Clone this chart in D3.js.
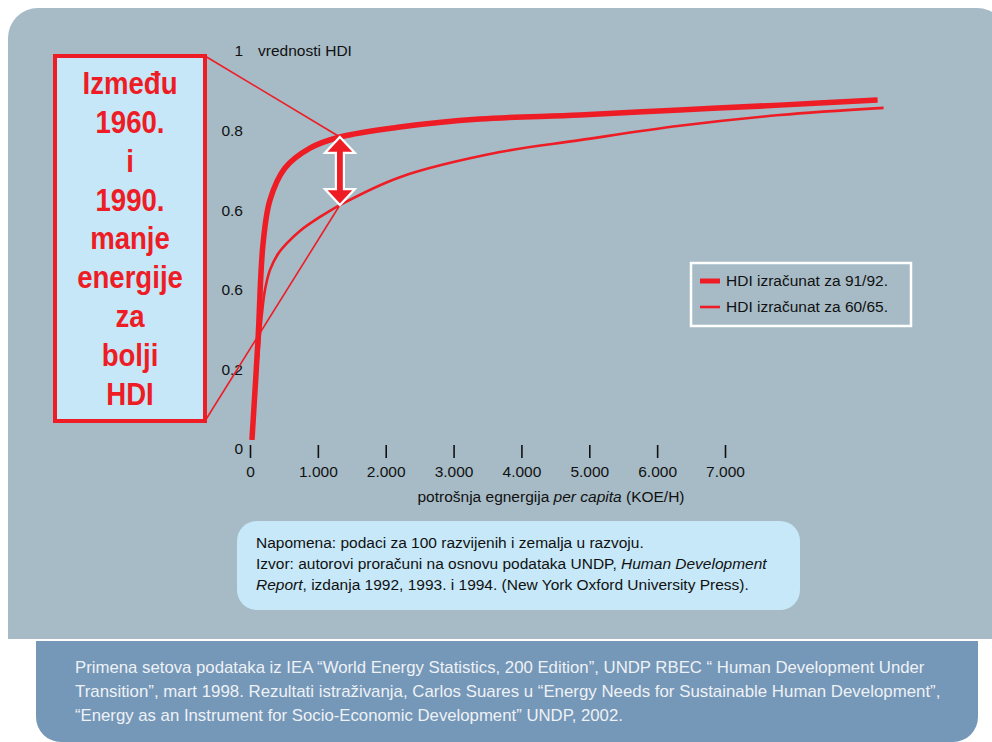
<!DOCTYPE html>
<html><head><meta charset="utf-8">
<script src="https://cdn.jsdelivr.net/npm/d3@7"></script>
<style>
body{margin:0;background:#fff}
svg{display:block;font-family:"Liberation Sans",Arial,sans-serif}
</style>
</head><body>
<svg id="c" width="992" height="742"></svg>
<script>
// ---------- data ----------
const energy9192 = [29, 118, 191, 295, 516, 884, 1325, 2209, 3387, 4860, 6333, 7806, 9249];
const hdi9192    = [0.023, 0.274, 0.513, 0.626, 0.706, 0.756, 0.784, 0.809, 0.829, 0.839, 0.852, 0.864, 0.877];
const energy6065 = [29, 103, 177, 221, 295, 412, 560, 736, 1031, 1325, 2209, 3682, 4860, 6333, 7806, 9337];
const hdi6065    = [0.023, 0.198, 0.342, 0.400, 0.450, 0.490, 0.520, 0.548, 0.583, 0.613, 0.683, 0.746, 0.776, 0.812, 0.839, 0.857];
const xTicks = [0, 1000, 2000, 3000, 4000, 5000, 6000, 7000];
const xTickLabels = ["0", "1.000", "2.000", "3.000", "4.000", "5.000", "6.000", "7.000"];
const yTicks = [0, 0.2, 0.4, 0.6, 0.8, 1];
const yTickLabels = ["0", "0.2", "0.6", "0.6", "0.8", "1"];
const seriesNames = ["HDI izračunat za 91/92.", "HDI izračunat za 60/65."];
const annotLines = ["Između", "1960.", "i", "1990.", "manje", "energije", "za", "bolji", "HDI"];
const arrowEnergy = 1325, arrowTopHDI = 0.784, arrowBottomHDI = 0.613;
const noteLines = [
  [{t:"Napomena: podaci za 100 razvijenih i zemalja u razvoju."}],
  [{t:"Izvor: autorovi proračuni na osnovu podataka UNDP, "},{t:"Human Development",i:true}],
  [{t:"Report",i:true},{t:", izdanja 1992, 1993. i 1994. (New York Oxford University Press)."}]
];
const sourceLines = [
  "Primena setova podataka iz IEA “World Energy Statistics, 200 Edition”, UNDP RBEC “ Human Development Under",
  "Transition”, mart 1998. Rezultati istraživanja, Carlos Suares u “Energy Needs for Sustainable Human Development”,",
  "“Energy as an Instrument for Socio-Economic Development” UNDP, 2002."
];

// ---------- setup ----------
const RED = "#ee1c25";
const FS = 15.5;
const svg = d3.select("#c");
const x = d3.scaleLinear().domain([0, 7000]).range([250, 725]);
const y = d3.scaleLinear().domain([0, 1]).range([449, 51]);

// panels
svg.append("path").attr("d","M8,639 V38 A30,30 0 0 1 38,8 H977 A30,30 0 0 1 1007,38 V639 Z").attr("fill","#a6bbc6");
svg.append("path").attr("d","M36,641 H978 V717 A25,25 0 0 1 953,742 H61 A25,25 0 0 1 36,717 Z").attr("fill","#7597b8");

function fit(textSel, tx, ty, target){
  const w = textSel.node().getComputedTextLength();
  textSel.attr("x",0).attr("transform",`translate(${tx},${ty}) scale(${target/w},1)`);
}

// x axis (ticks only)
const xAxis = d3.axisBottom(x).tickValues(xTicks).tickSize(13).tickPadding(8)
  .tickFormat((d,i)=>xTickLabels[i]);
const gx = svg.append("g").attr("transform","translate(0,445)").call(xAxis);
gx.select(".domain").remove();
gx.selectAll(".tick line").attr("stroke","#111").attr("stroke-width",1.6);
gx.selectAll(".tick text").attr("fill","#111").attr("font-size",FS).attr("font-family","Liberation Sans, Arial, sans-serif");

// y axis (labels only)
const yAxis = d3.axisLeft(y).tickValues(yTicks).tickSize(0).tickPadding(4)
  .tickFormat((d,i)=>yTickLabels[i]);
const gy = svg.append("g").attr("transform","translate(247,0)").call(yAxis);
gy.select(".domain").remove();
gy.selectAll(".tick text").attr("fill","#111").attr("font-size",FS).attr("font-family","Liberation Sans, Arial, sans-serif");
svg.append("text").attr("x",258).attr("y",y(1)).attr("dy","0.32em").attr("font-size",FS).attr("fill","#111").text("vrednosti HDI");

// axis title
const xt = svg.append("text").attr("x",551).attr("y",502).attr("text-anchor","middle").attr("font-size",FS).attr("fill","#111");
xt.append("tspan").text("potrošnja egnergija ");
xt.append("tspan").attr("font-style","italic").text("per capita");
xt.append("tspan").text(" (KOE/H)");

// annotation box
const boxTop = 56, boxBottom = 421, boxRight = 205, boxLeft = 55;
svg.append("rect").attr("x",boxLeft).attr("y",boxTop).attr("width",boxRight-boxLeft).attr("height",boxBottom-boxTop)
  .attr("fill","#c5e7f7").attr("stroke",RED).attr("stroke-width",4);
const ag = svg.append("g").attr("transform",`translate(130,0) scale(0.89,1)`);
annotLines.forEach((t,i)=>{
  ag.append("text").attr("x",0).attr("y",83 + i*38.8).attr("dy","0.36em").attr("text-anchor","middle")
    .attr("font-size",31).attr("font-weight","bold").attr("fill",RED).text(t);
});

// connector lines
const ax = x(arrowEnergy), ayTop = y(arrowTopHDI), ayBot = y(arrowBottomHDI);
svg.append("line").attr("x1",boxRight).attr("y1",boxTop).attr("x2",ax).attr("y2",ayTop).attr("stroke",RED).attr("stroke-width",1.6);
svg.append("line").attr("x1",boxRight).attr("y1",boxBottom).attr("x2",ax).attr("y2",ayBot).attr("stroke",RED).attr("stroke-width",1.6);

// curves
const line = d3.line().x(d=>x(d[0])).y(d=>y(d[1])).curve(d3.curveCatmullRom.alpha(0.5));
svg.append("path").attr("d",line(d3.zip(energy6065,hdi6065))).attr("fill","none").attr("stroke",RED).attr("stroke-width",2.6);
svg.append("path").attr("d",line(d3.zip(energy9192,hdi9192))).attr("fill","none").attr("stroke",RED).attr("stroke-width",5.5);

// double arrow
const hw=15, hh=16, sw=4;
const arrowPts = [
  [ax, ayTop],[ax+hw, ayTop+hh],[ax+sw, ayTop+hh],[ax+sw, ayBot-hh],[ax+hw, ayBot-hh],
  [ax, ayBot],[ax-hw, ayBot-hh],[ax-sw, ayBot-hh],[ax-sw, ayTop+hh],[ax-hw, ayTop+hh]
];
svg.append("path").attr("d","M"+arrowPts.map(p=>p.join(",")).join("L")+"Z")
  .attr("fill",RED).attr("stroke","#fff").attr("stroke-width",2.2).attr("stroke-linejoin","miter");

// legend
svg.append("rect").attr("x",691).attr("y",263).attr("width",220).attr("height",63).attr("fill","none").attr("stroke","#fff").attr("stroke-width",2.5);
[[281,5],[307,2.6]].forEach(([ly,sw2],i)=>{
  svg.append("line").attr("x1",700).attr("x2",720).attr("y1",ly).attr("y2",ly).attr("stroke",RED).attr("stroke-width",sw2);
  svg.append("text").attr("x",726).attr("y",ly).attr("dy","0.35em").attr("font-size",FS).attr("fill","#111").text(seriesNames[i]);
});

// note box
svg.append("rect").attr("x",237).attr("y",521).attr("width",563).attr("height",89).attr("rx",20).attr("fill","#c6e8f8");
noteLines.forEach((parts,i)=>{
  const t = svg.append("text").attr("x",256).attr("y",548+i*21).attr("font-size",FS).attr("fill","#111");
  parts.forEach(p=>{ const s=t.append("tspan").text(p.t); if(p.i) s.attr("font-style","italic"); });
});

// source text
const srcTargets = [850, 866, 548];
sourceLines.forEach((s,i)=>{
  const t = svg.append("text").attr("font-size",16).attr("fill","#eef2f6").text(s);
  fit(t, 75, 673 + i*24, srcTargets[i]);
});
</script>
</body></html>
